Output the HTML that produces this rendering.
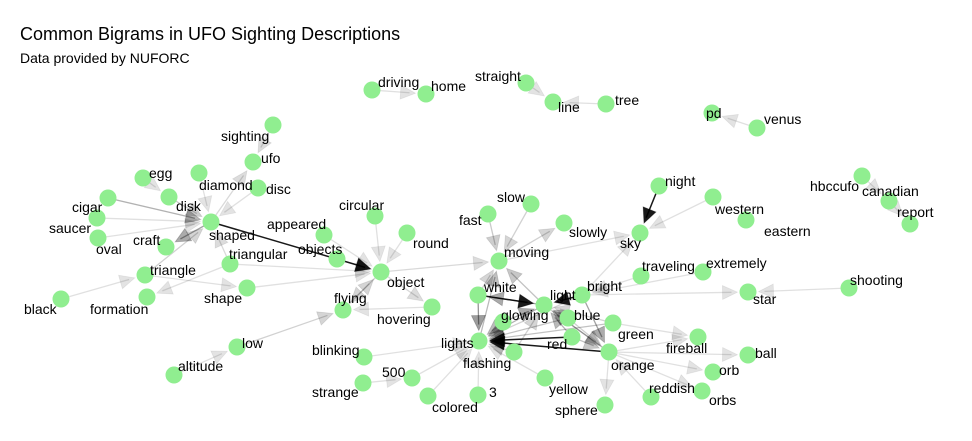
<!DOCTYPE html>
<html><head><meta charset="utf-8"><style>
body{margin:0;background:#fff;}
svg{display:block;font-family:"Liberation Sans",sans-serif;}
</style></head><body>
<svg id="chart" width="972" height="441" viewBox="0 0 972 441">
<rect width="972" height="441" fill="#fff"/>
<text x="20" y="40" font-size="18" fill="#000">Common Bigrams in UFO Sighting Descriptions</text>
<text x="20" y="63" font-size="14" fill="#000">Data provided by NUFORC</text>
<g id="edges"></g>
<g id="nodes"></g>
<g id="labels"></g>
</svg>
<script>
// node words
const words = ["driving","home","straight","line","tree","pd","venus","hbccufo","canadian","report",
"sighting","ufo","disc","diamond","egg","disk","cigar","saucer","oval","shaped","craft","triangle","formation","black","triangular","shape",
"appeared","objects","object","circular","round","flying","hovering","low","altitude","blinking","strange","500","colored","3",
"lights","flashing","white","glowing","light","moving","fast","slow","slowly","sky","night","western","eastern","bright","blue","green",
"red","orange","yellow","sphere","reddish","orbs","orb","ball","fireball","traveling","extremely","star","shooting"];
// layout coordinates (graph layout output)
const nodeX = [372,426,526,553,606,712,757,862,889,910,
273,253,258,199,143,169,108,97,98,211,166,145,147,61,230,247,
324,337,381,375,407,343,432,237,174,364,363,412,428,478,
479,514,478,503,544,499,488,531,564,640,659,713,746,582,568,613,
572,609,545,605,651,702,713,748,698,641,703,748,849];
const nodeY = [90,94,83,102,104,113,128,176,201,224,
125,162,188,173,178,197,198,218,238,222,247,275,297,299,264,288,
235,259,272,216,233,310,307,347,375,357,383,378,396,395,
341,352,295,322,305,261,214,204,223,233,186,197,220,295,318,323,
337,352,378,405,397,391,372,355,337,276,272,292,288];
// label anchor (start x, baseline y)
const labelX = [378,431,475,558,615,706,764,810,862,897,
221,261,266,199,149,176,72,49,96,209,133,150,90,24,229,204,
267,298,387,339,413,334,377,242,178,312,312,382,432,489,
441,463,484,501,550,504,459,497,569,620,665,715,764,587,574,618,
547,611,549,555,649,709,719,755,666,642,706,753,850];
const labelY = [87,91,81,112,105,118,124,191,196,217,
141,163,194,190,178,211,212,233,254,240,245,275,314,314,259,303,
229,254,287,210,248,303,324,348,371,355,397,377,412,397,
348,368,292,320,300,257,225,202,237,248,186,214,236,291,320,339,
349,370,394,415,393,405,375,358,353,271,268,304,285];
// edges: from, to, bigram count weight (0..1 scaled)
const edgeFrom = ["driving","straight","tree","venus","hbccufo","canadian","sighting","shaped","cigar","saucer","oval","disk","egg","diamond","disc","shaped","shaped","triangle","black","triangular","triangular","triangle","shape","triangular","appeared","objects","circular","round","flying","object","low","altitude","object","hovering","object","fast","slow","moving","light","lights","white","moving","night","western","bright","extremely","traveling","shooting","bright",
"white","white","light","bright","blue","red","orange","green","glowing","flashing",
"blinking","500","strange","colored","3","flashing","red","orange","green","blue","glowing","yellow","bright","light",
"bright","orange","orange","orange","orange","orange","reddish","green","blue","red","light"];
const edgeTo = ["home","line","line","pd","canadian","report","ufo","ufo","shaped","shaped","shaped","shaped","disk","shaped","shaped","object","craft","shaped","triangle","formation","shaped","shape","object","object","object","object","object","object","object","flying","flying","low","hovering","flying","moving","moving","moving","slowly","moving","moving","moving","sky","sky","sky","sky","bright","bright","star","star",
"light","lights","white","light","light","light","light","light","light","light",
"lights","lights","500","lights","lights","lights","lights","lights","lights","lights","lights","lights","lights","lights",
"orange","fireball","ball","orb","orbs","sphere","orange","fireball","orange","orange","orange"];
const edgeWeight = [0.2,0.2,0.2,0.2,0.2,0.2,0.25,0.25,0.5,0.2,0.2,0.35,0.2,0.2,0.2,0.95,0.6,0.3,0.2,0.2,0.25,0.2,0.2,0.2,0.2,0.3,0.2,0.2,0.3,0.3,0.3,0.2,0.25,0.2,0.25,0.35,0.3,0.3,0.4,0.45,0.3,0.2,0.8,0.2,0.2,0.2,0.2,0.2,0.2,
0.9,0.7,0.6,0.9,0.5,0.5,0.5,0.3,0.6,0.3,
0.2,0.2,0.2,0.2,0.2,0.35,0.75,0.75,0.4,0.4,0.5,0.2,0.3,0.5,
0.6,0.2,0.2,0.2,0.2,0.2,0.2,0.2,0.3,0.4,0.3];

const NS='http://www.w3.org/2000/svg';
const R=8.5;
function sx(i){return nodeX[i];}
function sy(i){return nodeY[i];}
function lineAlpha(w){return w>=0.75?0.9:w*0.6;}
function arrowAlpha(w){return w>=0.75?0.9:w*0.55;}
const eg=document.getElementById('edges');
for(let k=0;k<edgeFrom.length;k++){
  const a=words.indexOf(edgeFrom[k]), b=words.indexOf(edgeTo[k]);
  if(a<0||b<0) continue;
  const x1=sx(a),y1=sy(a),x2=sx(b),y2=sy(b);
  const dx=x2-x1,dy=y2-y1,L=Math.hypot(dx,dy),ux=dx/L,uy=dy/L;
  const tx=x2-ux*(R+2),ty=y2-uy*(R+2);
  const al=edgeWeight[k];
  const ln=document.createElementNS(NS,'line');
  ln.setAttribute('x1',x1);ln.setAttribute('y1',y1);
  ln.setAttribute('x2',tx-ux*6);ln.setAttribute('y2',ty-uy*6);
  ln.setAttribute('stroke','rgba(0,0,0,'+lineAlpha(al)+')');
  ln.setAttribute('stroke-width',al>=0.75?1.5:1.3);
  
  
  eg.appendChild(ln);
  const bx=tx-ux*15,by=ty-uy*15,px=-uy*7,py=ux*7;
  const ar=document.createElementNS(NS,'polygon');
  ar.setAttribute('points',tx+','+ty+' '+(bx+px)+','+(by+py)+' '+(bx-px)+','+(by-py));
  ar.setAttribute('fill','rgba(0,0,0,'+arrowAlpha(al)+')');
  ar.setAttribute('stroke','rgba(0,0,0,'+(al*0.35)+')');
  ar.setAttribute('stroke-width','0.8');
  
  
  eg.appendChild(ar);
}
const ng=document.getElementById('nodes'), lg=document.getElementById('labels');
for(let i=0;i<words.length;i++){
  const c=document.createElementNS(NS,'circle');
  c.setAttribute('cx',sx(i));c.setAttribute('cy',sy(i));c.setAttribute('r',R);
  c.setAttribute('fill','#90ee90');
  
  
  ng.appendChild(c);
  const t=document.createElementNS(NS,'text');
  t.setAttribute('x',labelX[i]);t.setAttribute('y',labelY[i]);
  t.setAttribute('font-size','14');t.setAttribute('fill','#000');
  t.textContent=words[i];
  
  
  lg.appendChild(t);
}
</script>
</body></html>
